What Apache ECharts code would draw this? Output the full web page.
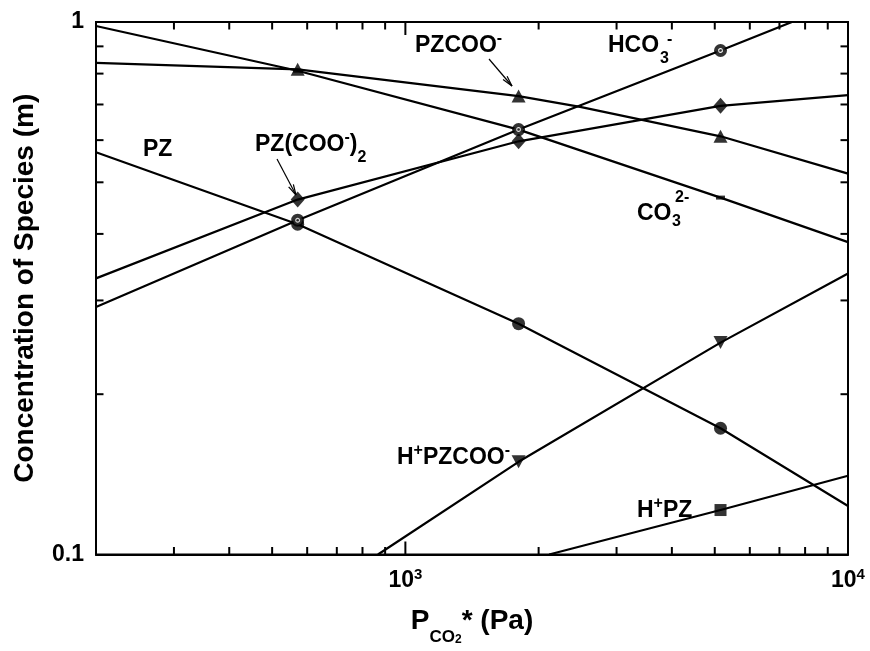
<!DOCTYPE html>
<html><head><meta charset="utf-8">
<script src="https://cdn.jsdelivr.net/npm/echarts@6/dist/echarts.min.js"></script>
<style>html,body{margin:0;padding:0;background:#fff}#c{width:870px;height:651px}</style>
</head><body><div id="c"></div>
<script>
// ---------- data (P_CO2* in Pa, concentration in m) ----------
const markerP = [571, 1802, 5152];

const pzcooLine  = [[200,0.838],[571,0.815],[1802,0.726],[2482,0.693],[5152,0.610],[10000,0.519]];
const pzcooMark  = [0.815, 0.726, 0.610];
const co3Line    = [[200,0.983],[571,0.81],[1802,0.628],[5152,0.468],[10000,0.386]];
const co3Mark    = [0.81, 0.628, 0.468];
const hco3Line   = [[200,0.2916],[571,0.4244],[1802,0.628],[5152,0.884],[7470,1.0]];
const hco3Mark   = [0.4244, 0.628, 0.884];
const pzcoo2Line = [[200,0.330],[571,0.464],[1802,0.597],[5152,0.696],[10000,0.729]];
const pzcoo2Mark = [0.464, 0.597, 0.696];
const pzLine     = [[200,0.5693],[571,0.417],[1802,0.2713],[5152,0.1726],[10000,0.1233]];
const pzMark     = [0.417, 0.2713, 0.1726];
const hpzcooLine = [[867,0.1],[1802,0.1493],[5152,0.250],[10000,0.337]];
const hpzcooMark = [null, 0.1493, 0.250];
const hpzLine    = [[2112,0.1],[5152,0.1212],[10000,0.1406]];
const hpzMark    = [null, null, 0.1212];

// ---------- axes ----------
const xRange = [200, 10000];
const yRange = [0.1, 1];
const xMinorTicks = [300,400,500,600,700,800,900,2000,3000,4000,5000,6000,7000,8000,9000];
const xMajorTicks = [1000];
const yMinorTicks = [0.2,0.3,0.4,0.5,0.6,0.7,0.8,0.9];
const xLabelValues = [1000, 10000];
const xLabelTexts  = ['{n|10}{sup|3}', '{n|10}{sup|4}'];
const yLabelValues = [0.1, 1];
const yLabelTexts  = ['0.1', '1'];

const F = '"Liberation Sans", Arial, Helvetica, sans-serif';
const K = '#000';

function near(a, b) { return Math.abs(a - b) / b < 1e-6; }

function lineSeries(name, data) {
  return {name, type:'line', data, symbol:'none', showSymbol:false, smooth:false,
    lineStyle:{color:K, width:2.2, join:'round'}, z:2, silent:true, clip:true};
}
function markSeries(name, vals, symbol, size, z, extra) {
  const data = markerP.map((p,i)=> vals[i]==null ? null : [p, vals[i]]).filter(d=>d);
  return Object.assign({name, type:'scatter', data, symbol, symbolSize:size,
    itemStyle:{color:K}, z, silent:true}, extra||{});
}

const tickData = [
  ...xMinorTicks.map(v => [v, 0.5, 0, 0]),
  ...xMajorTicks.map(v => [v, 0.5, 0, 1]),
  ...yMinorTicks.map(v => [1000, v, 1, 0])
];

const labelRich = {
  m:   {fontSize:23, fontWeight:'bold', fontFamily:F, lineHeight:42, verticalAlign:'middle', fill:K},
  sup: {fontSize:16, fontWeight:'bold', fontFamily:F, lineHeight:16, verticalAlign:'top', padding:[6,0,0,0], fill:K},
  sub: {fontSize:16, fontWeight:'bold', fontFamily:F, lineHeight:16, verticalAlign:'bottom', fill:K}
};
function richLabel(x, y, text) {
  return {type:'text', x, y, z:100, style:{text, rich:labelRich, align:'left', verticalAlign:'middle', fill:K}};
}
function plainText(x, y, text, size) {
  return {type:'text', x, y, z:100, style:{text, fontSize:size, fontWeight:'bold', fontFamily:F, fill:K, align:'left', verticalAlign:'middle'}};
}
function arrow(x1, y1, x2, y2) {
  const dx = x2-x1, dy = y2-y1, L = Math.hypot(dx,dy), ux = dx/L, uy = dy/L;
  const bl = 11, a = 14*Math.PI/180;
  const r1 = [ux*Math.cos(a)-uy*Math.sin(a), ux*Math.sin(a)+uy*Math.cos(a)];
  const r2 = [ux*Math.cos(-a)-uy*Math.sin(-a), ux*Math.sin(-a)+uy*Math.cos(-a)];
  const st = {stroke:K, lineWidth:1.2};
  return [
    {type:'line', z:100, shape:{x1, y1, x2, y2}, style:st},
    {type:'line', z:100, shape:{x1:x2-bl*r1[0], y1:y2-bl*r1[1], x2, y2}, style:st},
    {type:'line', z:100, shape:{x1:x2-bl*r2[0], y1:y2-bl*r2[1], x2, y2}, style:st}
  ];
}

const chart = echarts.init(document.getElementById('c'), null, {renderer:'canvas'});
chart.setOption({
  animation:false,
  backgroundColor:'#fff',
  textStyle:{fontFamily:F},
  grid:{left:96, right:22, top:22, bottom:89, show:true, borderColor:K, borderWidth:2, backgroundColor:'transparent', containLabel:false},
  xAxis:{
    type:'log', logBase:10, min:xRange[0], max:xRange[1],
    axisLine:{show:true, lineStyle:{color:K, width:2}},
    axisTick:{show:false}, splitLine:{show:false}, minorTick:{show:false}, minorSplitLine:{show:false},
    axisLabel:{
      color:K, margin:13, showMinLabel:true, showMaxLabel:true, hideOverlap:false,
      formatter:v => { const i = xLabelValues.findIndex(t => near(v,t)); return i<0 ? '' : xLabelTexts[i]; },
      rich:{
        n:{fontSize:23, fontWeight:'bold', fontFamily:F, color:K, lineHeight:26, verticalAlign:'middle'},
        sup:{fontSize:15, fontWeight:'bold', fontFamily:F, color:K, lineHeight:15, verticalAlign:'top'}
      }
    },
    name:'{m|P}{s|CO}{s2|2}{m|* (Pa)}', nameLocation:'middle', nameGap:41.5,
    nameTextStyle:{color:K, fontFamily:F, fontWeight:'bold', fontSize:28, rich:{
      m:{fontSize:28, fontWeight:'bold', fontFamily:F, color:K, lineHeight:50, verticalAlign:'middle'},
      s:{fontSize:17, fontWeight:'bold', fontFamily:F, color:K, lineHeight:17, verticalAlign:'bottom'},
      s2:{fontSize:12, fontWeight:'bold', fontFamily:F, color:K, lineHeight:12, verticalAlign:'bottom'}
    }}
  },
  yAxis:{
    type:'log', logBase:10, min:yRange[0], max:yRange[1],
    axisLine:{show:true, lineStyle:{color:K, width:2}},
    axisTick:{show:false}, splitLine:{show:false}, minorTick:{show:false}, minorSplitLine:{show:false},
    axisLabel:{
      color:K, margin:12, fontSize:23, fontWeight:'bold', fontFamily:F, showMinLabel:true, showMaxLabel:true,
      formatter:v => { const i = yLabelValues.findIndex(t => near(v,t)); return i<0 ? '' : yLabelTexts[i]; }
    },
    name:'Concentration of Species (m)', nameLocation:'middle', nameGap:57, nameRotate:90,
    nameTextStyle:{color:K, fontFamily:F, fontWeight:'bold', fontSize:28}
  },
  series:[
    lineSeries('CO3 2-', co3Line),
    lineSeries('PZCOO-', pzcooLine),
    lineSeries('HCO3-', hco3Line),
    lineSeries('PZ(COO-)2', pzcoo2Line),
    lineSeries('PZ', pzLine),
    lineSeries('H+PZCOO-', hpzcooLine),
    lineSeries('H+PZ', hpzLine),
    markSeries('CO3 2- pts', co3Mark, 'rect', [9,4], 3),
    markSeries('PZ pts', pzMark, 'circle', 13, 4),
    markSeries('PZ(COO-)2 pts', pzcoo2Mark, 'diamond', [14,16], 4),
    markSeries('PZCOO- pts', pzcooMark, 'triangle', [14,13], 4),
    markSeries('H+PZCOO- pts', hpzcooMark, 'triangle', [14,13], 4, {symbolRotate:180}),
    markSeries('H+PZ pts', hpzMark, 'rect', 12, 4),
    markSeries('HCO3- pts', hco3Mark, 'circle', 9, 6, {itemStyle:{color:'#fff', borderColor:K, borderWidth:4}}),
    markSeries('HCO3- dot', hco3Mark, 'circle', 2.5, 7),
    {
      name:'ticks', type:'custom', data:tickData, z:10, silent:true, clip:false,
      encode:{x:0, y:1},
      renderItem:(params, api) => {
        const kind = api.value(2), major = api.value(3);
        const len = major ? 13 : 7.5;
        const st = {stroke:K, lineWidth:2};
        if (kind === 0) {
          const pb = api.coord([api.value(0), yRange[0]]);
          const pt = api.coord([api.value(0), yRange[1]]);
          return {type:'group', children:[
            {type:'line', shape:{x1:pb[0], y1:pb[1], x2:pb[0], y2:pb[1]-len}, style:st},
            {type:'line', shape:{x1:pt[0], y1:pt[1], x2:pt[0], y2:pt[1]+len}, style:st}
          ]};
        }
        const pl = api.coord([xRange[0], api.value(1)]);
        const pr = api.coord([xRange[1], api.value(1)]);
        return {type:'group', children:[
          {type:'line', shape:{x1:pl[0], y1:pl[1], x2:pl[0]+len, y2:pl[1]}, style:st},
          {type:'line', shape:{x1:pr[0], y1:pr[1], x2:pr[0]-len, y2:pr[1]}, style:st}
        ]};
      }
    }
  ],
  graphic:[
    richLabel(415, 46, '{m|PZCOO}{sup|-}'),
    richLabel(143, 150, '{m|PZ}'),
    richLabel(255, 145, '{m|PZ(COO}{sup|-}{m|)}{sub|2}'),
    richLabel(397, 458, '{m|H}{sup|+}{m|PZCOO}{sup|-}'),
    richLabel(637, 511, '{m|H}{sup|+}{m|PZ}'),
    plainText(608, 46, 'HCO', 23),
    plainText(660, 59, '3', 16),
    plainText(667, 40, '-', 16),
    plainText(637, 213.5, 'CO', 23),
    plainText(672, 222, '3', 16),
    plainText(675, 198, '2-', 16),
    ...arrow(489, 59, 512, 86),
    ...arrow(277, 159, 296, 195)
  ]
});
</script>
</body></html>
